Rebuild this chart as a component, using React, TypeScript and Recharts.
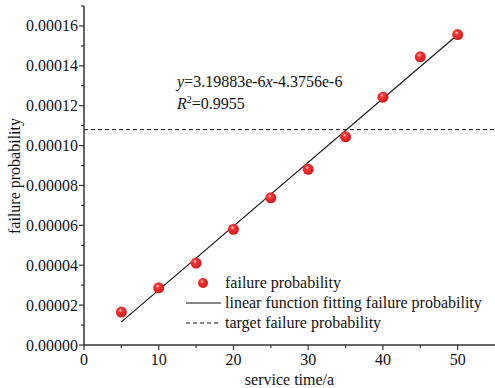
import React from 'react';
import { ComposedChart, Scatter, Line, XAxis, YAxis, ReferenceLine } from 'recharts';

// service time (a) vs. failure probability
const serviceTimes = [5, 10, 15, 20, 25, 30, 35, 40, 45, 50];
const failureProb = [
    0.0000165, 0.0000287, 0.0000411, 0.000058, 0.0000738,
    0.0000881, 0.0001044, 0.0001243, 0.0001445, 0.0001557,
];

// fitted line endpoints (y = 3.19883e-6x - 4.3756e-6)
const fitTimes = [5, 50];
const fitProb = [0.0000116, 0.0001556];

const targetProb = 0.000108;

const xTicks = [0, 5, 10, 15, 20, 25, 30, 35, 40, 45, 50];
const yTicks = [
    0, 0.00001, 0.00002, 0.00003, 0.00004, 0.00005, 0.00006, 0.00007, 0.00008,
    0.00009, 0.0001, 0.00011, 0.00012, 0.00013, 0.00014, 0.00015, 0.00016, 0.00017,
];

const points = serviceTimes.map((x, i) => ({ x, y: failureProb[i] }));
const fitLine = fitTimes.map((x, i) => ({ x, y: fitProb[i] }));

const FONT = '"Liberation Serif", "Times New Roman", serif';
const AXIS = '#333';
const TICK_SIZE = 5;
const TICK_MARGIN = 3;

const XTick = ({ x, y, payload }: any) => {
    const axisY = y - TICK_SIZE - TICK_MARGIN;
    const major = payload.value % 10 === 0;
    return (
        <g>
            <line x1={x} x2={x} y1={axisY} y2={axisY + (major ? 5 : 3)} stroke={AXIS} strokeWidth={1.2} />
            {major && (
                <text x={x} y={axisY + 20} textAnchor="middle" fontFamily={FONT} fontSize={16} fill="#111">
                    {payload.value}
                </text>
            )}
        </g>
    );
};

const YTick = ({ x, y, payload }: any) => {
    const axisX = x + TICK_SIZE + TICK_MARGIN;
    const major = Math.round(payload.value * 1e5) % 2 === 0;
    return (
        <g>
            <line x1={axisX} x2={axisX - (major ? 5 : 3)} y1={y} y2={y} stroke={AXIS} strokeWidth={1.2} />
            {major && (
                <text x={axisX - 6} y={y + 5.5} textAnchor="end" fontFamily={FONT} fontSize={16} fill="#111">
                    {payload.value.toFixed(5)}
                </text>
            )}
        </g>
    );
};

const Ball = ({ cx, cy }: any) => (
    <circle cx={cx} cy={cy} r={5.5} fill="url(#ballGrad)" />
);

const App = () => {
    return (
        <div style={{ position: 'absolute', left: 0, top: 0, width: 495, height: 388, background: '#fff' }}>
            <ComposedChart width={495} height={388} margin={{ top: 6, right: 0, bottom: 0, left: 0 }}>
                <defs>
                    <radialGradient id="ballGrad" cx="40%" cy="35%" r="65%">
                        <stop offset="0%" stopColor="#ffe0e0" />
                        <stop offset="25%" stopColor="#f23a3a" />
                        <stop offset="100%" stopColor="#d41616" />
                    </radialGradient>
                </defs>
                <XAxis
                    type="number"
                    dataKey="x"
                    domain={[0, 55]}
                    ticks={xTicks}
                    interval={0}
                    height={43}
                    tickSize={TICK_SIZE}
                    tickMargin={TICK_MARGIN}
                    tickLine={false}
                    tick={<XTick />}
                    axisLine={{ stroke: AXIS, strokeWidth: 1.5 }}
                    allowDataOverflow
                />
                <YAxis
                    type="number"
                    dataKey="y"
                    domain={[0, 0.00017]}
                    ticks={yTicks}
                    interval={0}
                    width={84}
                    tickSize={TICK_SIZE}
                    tickMargin={TICK_MARGIN}
                    tickLine={false}
                    tick={<YTick />}
                    axisLine={{ stroke: AXIS, strokeWidth: 1.5 }}
                    allowDataOverflow
                />
                <ReferenceLine y={targetProb} stroke="#111" strokeWidth={1} strokeDasharray="4 3" />
                <Line
                    data={fitLine}
                    dataKey="y"
                    type="linear"
                    stroke="#111"
                    strokeWidth={1.1}
                    dot={false}
                    activeDot={false}
                    isAnimationActive={false}
                />
                <Scatter data={points} dataKey="y" shape={<Ball />} isAnimationActive={false} />
            </ComposedChart>

            {/* axis titles */}
            <div
                style={{
                    position: 'absolute', left: 15 - 100, top: 176 - 10, width: 200, height: 20,
                    lineHeight: '20px', textAlign: 'center', transform: 'rotate(-90deg)',
                    fontFamily: FONT, fontSize: 16, color: '#111',
                }}
            >
                failure probability
            </div>
            <div
                style={{
                    position: 'absolute', left: 84, top: 370, width: 411, lineHeight: '20px',
                    textAlign: 'center', fontFamily: FONT, fontSize: 16, color: '#111',
                }}
            >
                service time/a
            </div>

            {/* fit equation */}
            <div style={{ position: 'absolute', left: 177, top: 72, lineHeight: '20px', fontFamily: FONT, fontSize: 16, color: '#111', whiteSpace: 'nowrap' }}>
                <i>y</i>=3.19883e-6<i>x</i>-4.3756e-6
            </div>
            <div style={{ position: 'absolute', left: 177, top: 90, lineHeight: '20px', fontFamily: FONT, fontSize: 16, color: '#111', whiteSpace: 'nowrap' }}>
                <i>R</i><sup style={{ fontSize: 10, verticalAlign: 6 }}>2</sup>=0.9955
            </div>

            {/* legend */}
            <div style={{ position: 'absolute', left: 184, top: 273, fontFamily: FONT, fontSize: 16, color: '#111', lineHeight: '20px', whiteSpace: 'nowrap' }}>
                <div style={{ display: 'flex', alignItems: 'center', height: 20 }}>
                    <svg width={41} height={20}>
                        <circle cx={19} cy={10} r={5} fill="url(#ballGrad)" />
                    </svg>
                    <span>failure probability</span>
                </div>
                <div style={{ display: 'flex', alignItems: 'center', height: 20 }}>
                    <svg width={41} height={20}>
                        <line x1={2} x2={37} y1={10} y2={10} stroke="#111" strokeWidth={1.2} />
                    </svg>
                    <span>linear function fitting failure probability</span>
                </div>
                <div style={{ display: 'flex', alignItems: 'center', height: 20 }}>
                    <svg width={41} height={20}>
                        <line x1={2} x2={37} y1={10} y2={10} stroke="#111" strokeWidth={1} strokeDasharray="4 3" />
                    </svg>
                    <span>target failure probability</span>
                </div>
            </div>
        </div>
    );
};

export default App;
